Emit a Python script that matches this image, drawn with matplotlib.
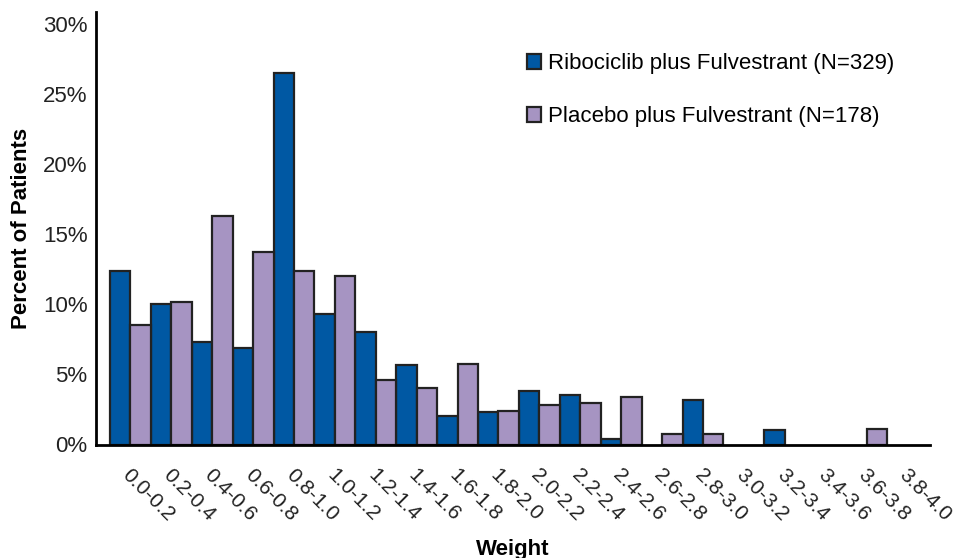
import matplotlib.pyplot as plt
import matplotlib.transforms as mtransforms
import numpy as np

plt.rcParams['font.family'] = ['Liberation Sans', 'DejaVu Sans']

bins = ["0.0-0.2", "0.2-0.4", "0.4-0.6", "0.6-0.8", "0.8-1.0",
        "1.0-1.2", "1.2-1.4", "1.4-1.6", "1.6-1.8", "1.8-2.0",
        "2.0-2.2", "2.2-2.4", "2.4-2.6", "2.6-2.8", "2.8-3.0",
        "3.0-3.2", "3.2-3.4", "3.4-3.6", "3.6-3.8", "3.8-4.0"]
ribociclib = [12.4, 10.0, 7.3, 6.9, 26.5, 9.3, 8.0, 5.65, 2.0, 2.3,
              3.8, 3.5, 0.4, 0.0, 3.2, 0.0, 1.0, 0.0, 0.0, 0.0]
placebo = [8.5, 10.2, 16.3, 13.7, 12.4, 12.0, 4.6, 4.0, 5.75, 2.4,
           2.8, 2.95, 3.4, 0.75, 0.75, 0.0, 0.0, 0.0, 1.1, 0.0]
yticks = [0, 5, 10, 15, 20, 25, 30]

blue = "#0058a3"
purple = "#a694c2"
edge = "#222222"

fig = plt.figure(figsize=(9.59, 5.58), dpi=100)
ax = fig.add_axes([96 / 959, (558 - 444.5) / 558, (930 - 96) / 959, (444.5 - 12) / 558])

x = np.arange(len(bins))
for xi, v in zip(x, ribociclib):
    if v > 0:
        ax.bar(xi + 0.25, v, width=0.5, color=blue, edgecolor=edge, linewidth=1.6)
for xi, v in zip(x, placebo):
    if v > 0:
        ax.bar(xi + 0.75, v, width=0.5, color=purple, edgecolor=edge, linewidth=1.6)

ax.set_xlim(-0.34, 20.05)
ax.set_ylim(0, 30.85)

ax.set_yticks(yticks)
ax.set_yticklabels([f"{t}%" for t in yticks], fontsize=16, color="#222222")
ax.set_xticks(x + 0.5)
ax.set_xticklabels([])
ax.tick_params(axis="both", length=0)
ax.tick_params(axis="y", pad=6)

# rotated bin labels, placed below each bin
offset = mtransforms.ScaledTranslation(-5 / 100, -28 / 100, fig.dpi_scale_trans)
for xi, b in zip(x, bins):
    ax.text(xi + 0.5, 0, b, transform=ax.get_xaxis_transform() + offset,
            rotation=-45, rotation_mode="anchor", ha="left", va="center",
            fontsize=15, color="#222222")

for side in ["top", "right"]:
    ax.spines[side].set_visible(False)
for side in ["left", "bottom"]:
    ax.spines[side].set_linewidth(2)
    ax.spines[side].set_color("black")

ax.set_ylabel("Percent of Patients", fontsize=16, fontweight="bold", labelpad=8)
fig.text(513 / 959, 1 - 549 / 558, "Weight", fontsize=16, fontweight="bold",
         ha="center", va="center")

handles = [plt.Rectangle((0, 0), 1, 1, facecolor=blue, edgecolor=edge, linewidth=1.6),
           plt.Rectangle((0, 0), 1, 1, facecolor=purple, edgecolor=edge, linewidth=1.6)]
ax.legend(handles, ["Ribociclib plus Fulvestrant (N=329)", "Placebo plus Fulvestrant (N=178)"],
          loc="upper left", bbox_to_anchor=(527 / 959, 1 - 53 / 558), bbox_transform=fig.transFigure,
          frameon=False, fontsize=16, handlelength=0.65, handleheight=0.65, handletextpad=0.3,
          labelspacing=1.45, borderaxespad=0, borderpad=0)

fig.savefig("out.png", dpi=100)
